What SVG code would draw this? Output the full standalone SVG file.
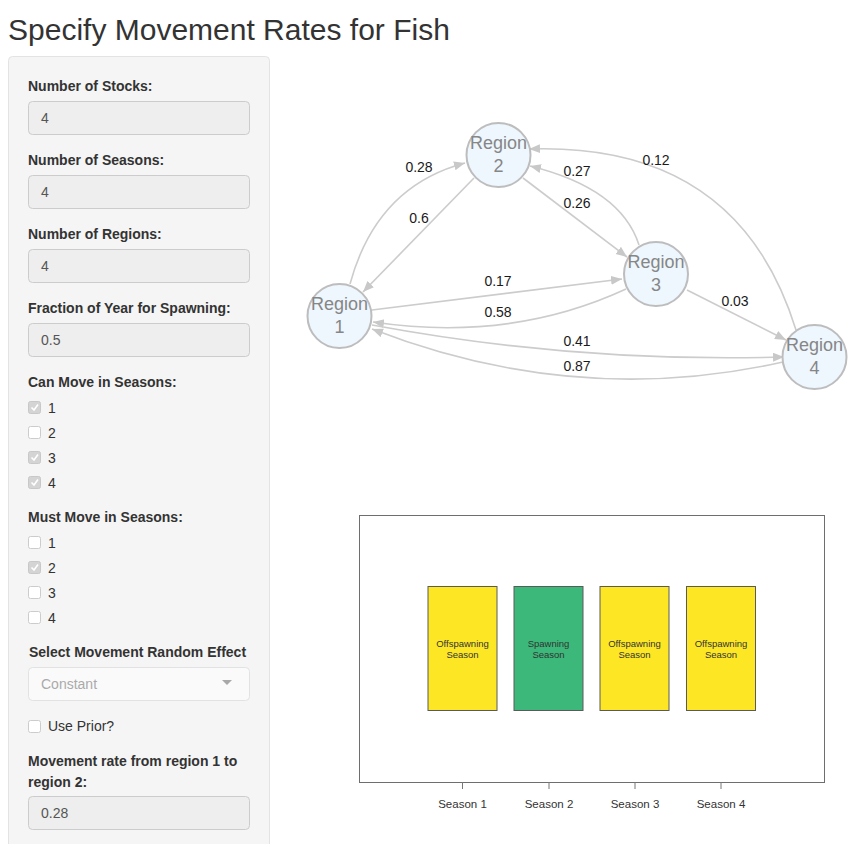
<svg xmlns="http://www.w3.org/2000/svg" width="866" height="844" viewBox="0 0 866 844">
<defs>
<marker id="arr" markerUnits="userSpaceOnUse" markerWidth="12" markerHeight="10" refX="11" refY="4.5" orient="auto">
<path d="M0,0 L11,4.5 L0,9 z" fill="#c8c8c8"/>
</marker>
</defs>
<style>
text{font-family:"Liberation Sans",Arial,sans-serif}
.lbl{font-size:14px;font-weight:bold;fill:#333}
.inp{fill:#eeeeee;stroke:#cccccc;stroke-width:1}
.val{font-size:14px;fill:#555}
.cbon{fill:#d4d4d4;stroke:#c8c8c8;stroke-width:1}
.cboff{fill:#ffffff;stroke:#cccccc;stroke-width:1}
.chk{fill:none;stroke:#ffffff;stroke-width:1.6}
.opt{font-size:14px;fill:#333}
.node circle{fill:#eef6fe;stroke:#bdbdbd;stroke-width:2}
.node text{font-size:18px;fill:#868686;text-anchor:middle}
.edge{fill:none;stroke:#cccccc;stroke-width:1.6;marker-end:url(#arr)}
.elbl{font-size:14px;fill:#1a1a1a;text-anchor:middle}
.bar{stroke:#5a5a5a;stroke-width:1}
.btxt{font-size:9.5px;fill:#333;text-anchor:middle}
.tick{stroke:#777;stroke-width:1}
.slbl{font-size:11.5px;fill:#333;text-anchor:middle}
</style>
<rect width="866" height="844" fill="#ffffff"/>
<text x="8" y="40" font-size="30" fill="#333">Specify Movement Rates for Fish</text>

<g id="panel">
<rect x="8.5" y="56.5" width="261" height="820" rx="4" fill="#f5f5f5" stroke="#e3e3e3"/>
<text class="lbl" x="28" y="91">Number of Stocks:</text>
<rect class="inp" x="28.5" y="101.5" width="221" height="33" rx="4"/>
<text class="val" x="41" y="123">4</text>
<text class="lbl" x="28" y="165">Number of Seasons:</text>
<rect class="inp" x="28.5" y="175.5" width="221" height="33" rx="4"/>
<text class="val" x="41" y="197">4</text>
<text class="lbl" x="28" y="239">Number of Regions:</text>
<rect class="inp" x="28.5" y="249.5" width="221" height="33" rx="4"/>
<text class="val" x="41" y="271">4</text>
<text class="lbl" x="28" y="313">Fraction of Year for Spawning:</text>
<rect class="inp" x="28.5" y="323.5" width="221" height="33" rx="4"/>
<text class="val" x="41" y="345">0.5</text>

<text class="lbl" x="28" y="387">Can Move in Seasons:</text>
<rect class="cbon" x="28.5" y="401.5" width="12" height="12" rx="2"/><path class="chk" d="M31.5,407.5 L34,410 L38,404.5"/>
<text class="opt" x="48" y="413">1</text>
<rect class="cboff" x="28.5" y="426.5" width="12" height="12" rx="2"/>
<text class="opt" x="48" y="438">2</text>
<rect class="cbon" x="28.5" y="451.5" width="12" height="12" rx="2"/><path class="chk" d="M31.5,457.5 L34,460 L38,454.5"/>
<text class="opt" x="48" y="463">3</text>
<rect class="cbon" x="28.5" y="476.5" width="12" height="12" rx="2"/><path class="chk" d="M31.5,482.5 L34,485 L38,479.5"/>
<text class="opt" x="48" y="488">4</text>

<text class="lbl" x="28" y="522">Must Move in Seasons:</text>
<rect class="cboff" x="28.5" y="536.5" width="12" height="12" rx="2"/>
<text class="opt" x="48" y="548">1</text>
<rect class="cbon" x="28.5" y="561.5" width="12" height="12" rx="2"/><path class="chk" d="M31.5,567.5 L34,570 L38,564.5"/>
<text class="opt" x="48" y="573">2</text>
<rect class="cboff" x="28.5" y="586.5" width="12" height="12" rx="2"/>
<text class="opt" x="48" y="598">3</text>
<rect class="cboff" x="28.5" y="611.5" width="12" height="12" rx="2"/>
<text class="opt" x="48" y="623">4</text>

<text class="lbl" x="29" y="657">Select Movement Random Effect</text>
<rect x="28.5" y="667.5" width="221" height="33" rx="4" fill="#fafafa" stroke="#e2e2e2"/>
<text x="41" y="689" font-size="14" fill="#aaaaaa">Constant</text>
<path d="M222,680 L232,680 L227,685 z" fill="#a8a8a8"/>

<rect class="cboff" x="28.5" y="720.5" width="12" height="12" rx="2"/>
<text class="opt" x="48" y="731">Use Prior?</text>

<text class="lbl" x="28" y="766">Movement rate from region 1 to</text>
<text class="lbl" x="28" y="787">region 2:</text>
<rect class="inp" x="28.5" y="796.5" width="221" height="33" rx="4"/>
<text class="val" x="41" y="818">0.28</text>
</g>

<g id="connectors">
<path id="e12" class="edge" d="M350,284 Q376.5,186.5 465,163"/>
<path id="e21" class="edge" d="M474,178 L363,292"/>
<path id="e23" class="edge" d="M523,178 L627,257"/>
<path id="e32" class="edge" d="M639,245 Q621,188.5 530,166"/>
<path id="e42" class="edge" d="M796,330 Q738,142 529,149"/>
<path id="e13" class="edge" d="M372,310 L622,279"/>
<path id="e31" class="edge" d="M626,289 Q510.5,342.5 373,322"/>
<path id="e14" class="edge" d="M372,325 Q576.5,363 784,357"/>
<path id="e41" class="edge" d="M783,362 Q576.5,408.5 372,329"/>
<path id="e34" class="edge" d="M687,290 L786,340"/>
<text class="elbl" x="419" y="172">0.28</text>
<text class="elbl" x="419" y="223">0.6</text>
<text class="elbl" x="577" y="176">0.27</text>
<text class="elbl" x="577" y="208">0.26</text>
<text class="elbl" x="656" y="165">0.12</text>
<text class="elbl" x="498" y="286">0.17</text>
<text class="elbl" x="498" y="317">0.58</text>
<text class="elbl" x="735" y="306">0.03</text>
<text class="elbl" x="577" y="346">0.41</text>
<text class="elbl" x="577" y="371">0.87</text>
</g>

<g id="region1" class="node">
<circle cx="339.5" cy="316" r="32"/>
<text x="339.5" y="310">Region</text>
<text x="339.5" y="333">1</text>
</g>
<g id="region2" class="node">
<circle cx="498.5" cy="155" r="32"/>
<text x="498.5" y="149">Region</text>
<text x="498.5" y="172">2</text>
</g>
<g id="region3" class="node">
<circle cx="656" cy="274" r="32"/>
<text x="656" y="268">Region</text>
<text x="656" y="291">3</text>
</g>
<g id="region4" class="node">
<circle cx="814.5" cy="357" r="32"/>
<text x="814.5" y="351">Region</text>
<text x="814.5" y="374">4</text>
</g>

<g id="season-plot">
<rect x="359.5" y="515.5" width="465" height="267" fill="#ffffff" stroke="#6e6e6e"/>
<g id="season1">
<rect class="bar" x="428" y="586.5" width="69" height="124" fill="#fde725"/>
<text class="btxt" x="462.5" y="647">Offspawning</text>
<text class="btxt" x="462.5" y="658">Season</text>
</g>
<g id="season2">
<rect class="bar" x="514" y="586.5" width="69" height="124" fill="#3bb87a"/>
<text class="btxt" x="548.5" y="647">Spawning</text>
<text class="btxt" x="548.5" y="658">Season</text>
</g>
<g id="season3">
<rect class="bar" x="600" y="586.5" width="69" height="124" fill="#fde725"/>
<text class="btxt" x="634.5" y="647">Offspawning</text>
<text class="btxt" x="634.5" y="658">Season</text>
</g>
<g id="season4">
<rect class="bar" x="686.5" y="586.5" width="69" height="124" fill="#fde725"/>
<text class="btxt" x="721" y="647">Offspawning</text>
<text class="btxt" x="721" y="658">Season</text>
</g>
<line class="tick" x1="462.5" y1="782" x2="462.5" y2="789"/>
<line class="tick" x1="549" y1="782" x2="549" y2="789"/>
<line class="tick" x1="635" y1="782" x2="635" y2="789"/>
<line class="tick" x1="721" y1="782" x2="721" y2="789"/>
<text class="slbl" x="462.5" y="808">Season 1</text>
<text class="slbl" x="549" y="808">Season 2</text>
<text class="slbl" x="635" y="808">Season 3</text>
<text class="slbl" x="721" y="808">Season 4</text>
</g>
</svg>
